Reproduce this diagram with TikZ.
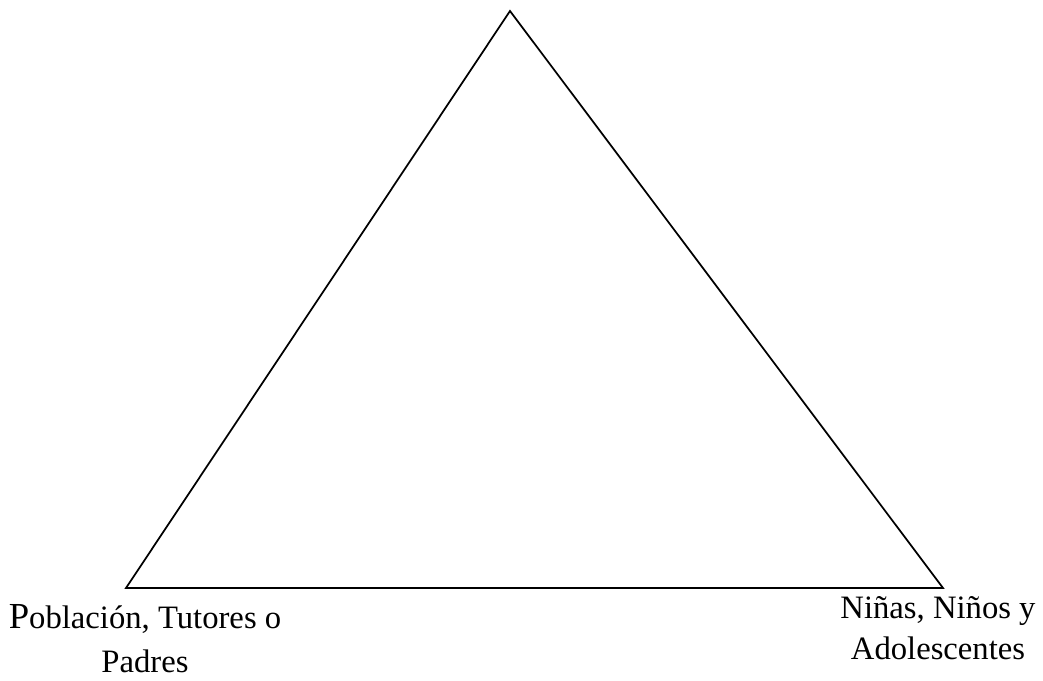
\documentclass[tikz,border=0pt]{standalone}
\usepackage{fontspec}
\setmainfont{Liberation Serif}
\usetikzlibrary{positioning}

\tikzset{
  corner label/.style={align=center, inner sep=0pt, anchor=north,
    font=\fontsize{24.5}{31}\selectfont},
}

\begin{document}
\begin{tikzpicture}[x=0.75pt, y=-0.75pt]
    \useasboundingbox (0,0) rectangle (1043,681);

    % Corners of the triangle
    \coordinate (apex)  at (510,11);
    \coordinate (left)  at (126,588);
    \coordinate (right) at (943,588);

    \draw[line width=1.3pt, line join=miter] (apex) -- (right) -- (left) -- cycle;

    % Labels under the two bottom corners
    \node[corner label, font=\fontsize{24.5}{33}\selectfont] (poblacion) at (145,604)
        {{\fontsize{27.5}{33}\selectfont P}oblación, Tutores o\\Padres};
    \node[corner label] (ninos) at (938,596)
        {Niñas, Niños y\\Adolescentes};
\end{tikzpicture}
\end{document}
